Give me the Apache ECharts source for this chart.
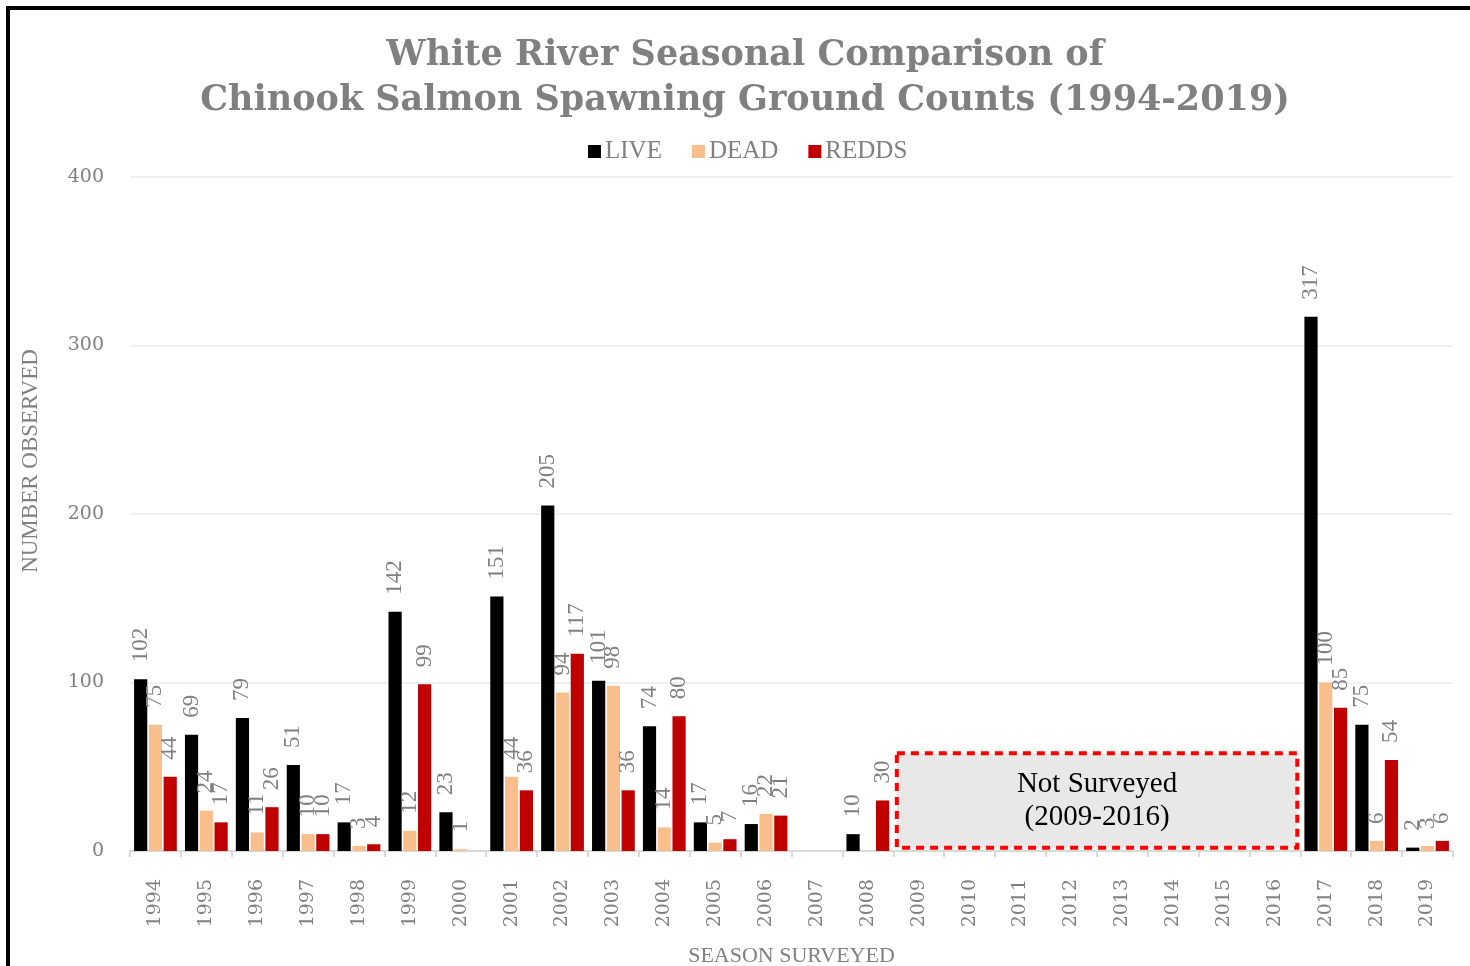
<!DOCTYPE html>
<html>
	<head>
		<meta charset="utf-8">
		<title>White River Chinook Salmon</title>
		<style>
			body { margin: 0; background: #fff; }
			#main { position: absolute; left: 0; top: 0; width: 1470px; height: 966px; }
			#frame { position: absolute; left: 6px; top: 6px; width: 1480px; height: 980px;
				border-left: 4px solid #000; border-top: 4px solid #000; pointer-events: none; }
		</style>
	</head>
	<body>
		<div id="main"></div>
		<div id="frame"></div>
		<script src="https://cdn.jsdelivr.net/npm/echarts@6/dist/echarts.min.js"></script>
		<script type="text/javascript">
			// seasons and counts (null = no survey / no value)
			var seasons = ['1994', '1995', '1996', '1997', '1998', '1999', '2000', '2001', '2002', '2003',
				'2004', '2005', '2006', '2007', '2008', '2009', '2010', '2011', '2012', '2013',
				'2014', '2015', '2016', '2017', '2018', '2019'];
			var live = [102, 69, 79, 51, 17, 142, 23, 151, 205, 101,
				74, 17, 16, null, 10, null, null, null, null, null,
				null, null, null, 317, 75, 2];
			var dead = [75, 24, 11, 10, 3, 12, 1, 44, 94, 98,
				14, 5, 22, null, null, null, null, null, null, null,
				null, null, null, 100, 6, 3];
			var redds = [44, 17, 26, 10, 4, 99, null, 36, 117, 36,
				80, 7, 21, null, 30, null, null, null, null, null,
				null, null, null, 85, 54, 6];
			var yTicks = [0, 100, 200, 300, 400];

			var serif = 'DejaVu Serif';
			var times = 'Liberation Serif';
			var gray = '#808080';

			function barSeries(name, data, color){
				return {
					name: name,
					type: 'bar',
					data: data,
					barGap: '12%',
					barCategoryGap: '16%',
					itemStyle: { color: color },
					label: {
						show: true,
						position: 'top',
						rotate: 90,
						align: 'left',
						verticalAlign: 'middle',
						distance: 17,
						color: gray,
						fontFamily: times,
						fontSize: 23
					}
				};
			}

			var myChart = echarts.init(document.getElementById('main'));
			var option = {
				animation: false,
				textStyle: { fontFamily: serif },
				title: {
					text: 'White River Seasonal Comparison of\nChinook Salmon Spawning Ground Counts (1994-2019)',
					left: 740,
					textAlign: 'center',
					top: 28,
					textStyle: {
						fontFamily: serif,
						fontWeight: 'bold',
						fontSize: 35,
						lineHeight: 45,
						color: gray
					}
				},
				legend: {
					data: ['LIVE', 'DEAD', 'REDDS'],
					left: 583,
					top: 134,
					icon: 'rect',
					itemWidth: 13,
					itemHeight: 13,
					itemGap: 30,
					textStyle: { fontFamily: times, fontSize: 25, color: gray, padding: [0, 0, 0, -1] }
				},
				grid: { left: 130, right: 17, top: 177, bottom: 115, outerBoundsMode: 'none', containLabel: false },
				xAxis: [{
					type: 'category',
					data: seasons,
					name: 'SEASON SURVEYED',
					nameLocation: 'middle',
					nameGap: 94,
					nameTextStyle: { fontFamily: times, fontSize: 22, color: gray },
					axisLine: { lineStyle: { color: '#d9d9d9', width: 2 } },
					axisTick: { show: true, length: 6, lineStyle: { color: '#d9d9d9', width: 2 } },
					axisLabel: {
						interval: 0,
						rotate: 90,
						margin: 28,
						fontFamily: serif,
						fontSize: 19,
						color: gray
					}
				}, {
					// hidden helper axis to place the "not surveyed" box on category bands
					type: 'value',
					min: 0,
					max: seasons.length,
					show: false
				}],
				yAxis: {
					type: 'value',
					min: 0,
					max: 400,
					interval: 100,
					name: 'NUMBER OBSERVED',
					nameLocation: 'middle',
					nameGap: 88,
					nameTextStyle: { fontFamily: times, fontSize: 23, color: gray, padding: [0, 0, 0, 106] },
					axisLine: { show: false },
					axisTick: { show: false },
					axisLabel: {
						margin: 26,
						fontFamily: serif,
						fontSize: 19,
						color: gray,
						formatter: function(v){ return yTicks.indexOf(v) >= 0 ? String(v) : ''; }
					},
					splitLine: { lineStyle: { color: '#ebebeb', width: 1.5 } }
				},
				series: [
					barSeries('LIVE', live, '#000000'),
					barSeries('DEAD', dead, '#f8bf8d'),
					barSeries('REDDS', redds, '#c00000'),
					{
						name: 'gap',
						type: 'line',
						xAxisIndex: 1,
						data: [],
						silent: true,
						markArea: {
							silent: true,
							itemStyle: {
								color: '#e8e8e8',
								borderColor: '#ff0000',
								borderWidth: 4,
								borderType: [8, 6]
							},
							label: {
								show: true,
								position: 'inside',
								color: '#000',
								fontFamily: times,
								fontSize: 29,
								lineHeight: 33
							},
							data: [[
								{ name: 'Not Surveyed\n(2009-2016)', xAxis: 15.07, yAxis: 58 },
								{ xAxis: 22.94, yAxis: 2 }
							]]
						}
					}
				]
			};
			myChart.setOption(option);
		</script>
	</body>
</html>
